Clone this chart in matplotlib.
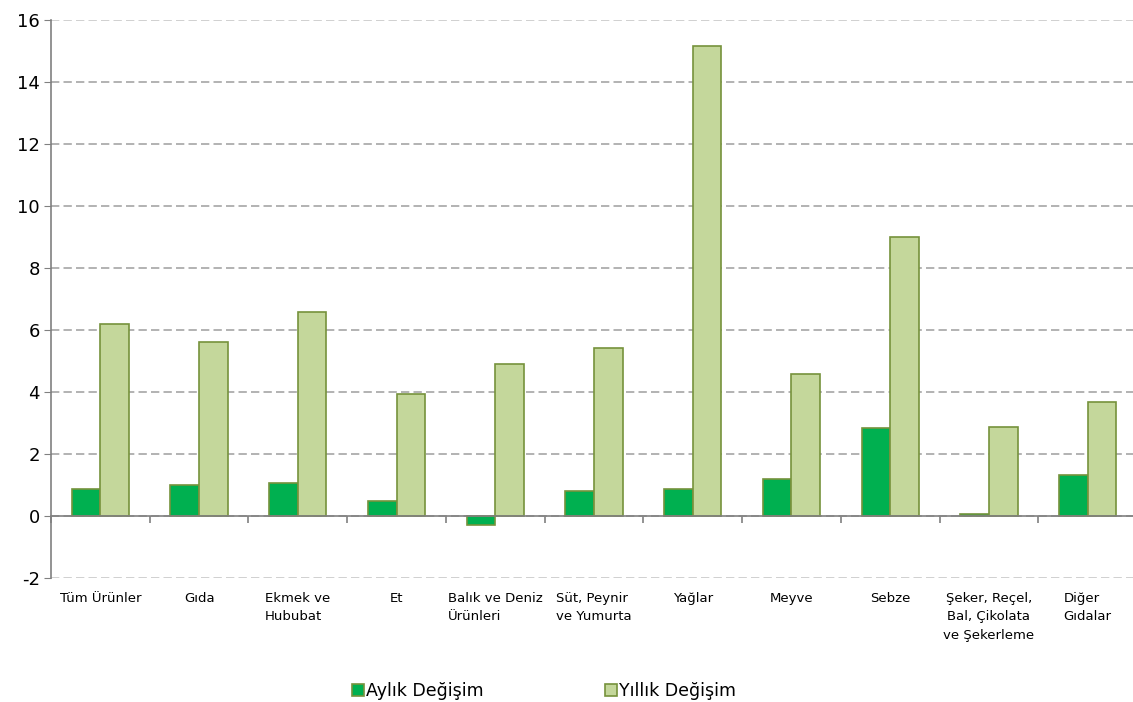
import numpy as np
import matplotlib
matplotlib.use("Agg")
import matplotlib.pyplot as plt

categories = ["Tüm Ürünler", "Gıda", "Ekmek ve\nHububat", "Et", "Balık ve Deniz\nÜrünleri",
              "Süt, Peynir\nve Yumurta", "Yağlar", "Meyve", "Sebze",
              "Şeker, Reçel,\nBal, Çikolata\nve Şekerleme", "Diğer\nGıdalar"]
aylik = [0.87, 1.0, 1.06, 0.48, -0.3, 0.8, 0.87, 1.19, 2.84, 0.06, 1.32]
yillik = [6.19, 5.61, 6.58, 3.94, 4.9, 5.42, 15.16, 4.58, 9.0, 2.87, 3.68]
series_names = ["Aylık Değişim", "Yıllık Değişim"]

plt.rcParams['font.family'] = ['DejaVu Sans']
plt.rcParams['axes.unicode_minus'] = False

fig = plt.figure(figsize=(11.33, 7.02), dpi=100)
ax = fig.add_axes([51 / 1133, 1 - 578 / 702, 1086 / 1133, 558 / 702])

x = np.arange(len(categories))
w = 0.29
ax.bar(x - w / 2, aylik, w, color='#00B050', edgecolor='#76923C', linewidth=1.2,
       label=series_names[0], zorder=3)
ax.bar(x + w / 2, yillik, w, color='#C4D79B', edgecolor='#76923C', linewidth=1.2,
       label=series_names[1], zorder=3)

ax.set_xlim(-0.5, len(categories) - 0.5)
ax.set_ylim(-2, 16)
ax.set_yticks(np.arange(-2, 17, 2))
ax.tick_params(axis='y', labelsize=13, length=5, color='#808080', pad=3)
ax.grid(axis='y', linestyle=(0, (5, 2.5)), color='#A6A6A6', linewidth=1.2, zorder=0)
# ust ve alt cizgiler daha acik
gl = ax.get_ygridlines()
for g in (gl[0], gl[-1]):
    g.set_color('#C8C8C8')

for s in ['top', 'right']:
    ax.spines[s].set_visible(False)
ax.spines['left'].set_color('#808080')
ax.spines['left'].set_linewidth(1.2)
ax.spines['bottom'].set_position(('data', 0))
ax.spines['bottom'].set_color('#808080')
ax.spines['bottom'].set_linewidth(1.2)
ax.spines['bottom'].set_zorder(4)

ax.set_xticks(np.arange(len(categories) + 1) - 0.5)
ax.set_xticklabels([])
ax.tick_params(axis='x', length=5, color='#808080', width=1.2, direction='out')

tr = ax.get_xaxis_transform()
for i, lab in enumerate(categories):
    ax.text(i, -0.025, lab, transform=tr, ha='center', va='top', fontsize=9.5,
            multialignment='center' if lab.startswith('Şeker') else 'left',
            linespacing=1.55)

fig.legend(loc='lower center', bbox_to_anchor=(0.48, -0.02), ncol=2, frameon=False,
           fontsize=12.5, handlelength=0.7, handleheight=0.7, handletextpad=0.1,
           columnspacing=7)

fig.savefig("out.png", dpi=100)
